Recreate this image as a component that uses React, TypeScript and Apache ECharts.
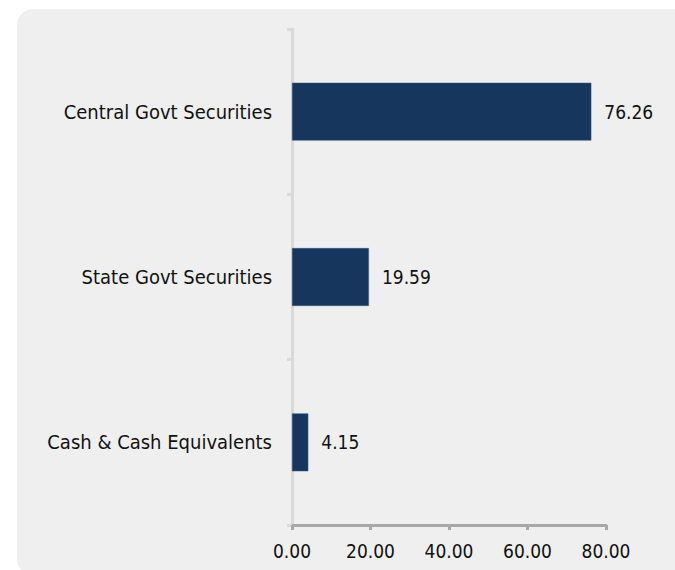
import React, { useEffect, useRef } from "react";
import * as echarts from "echarts";

const categories = ["Cash & Cash Equivalents", "State Govt Securities", "Central Govt Securities"];
const values = [4.15, 19.59, 76.26];
const xTicks = [0, 20, 40, 60, 80];

export default function App() {
  const ref = useRef<HTMLDivElement>(null);
  useEffect(() => {
    document.body.style.margin = "0";
    const chart = echarts.init(ref.current!, null, { renderer: "svg" });
    const font = "'DejaVu Sans Condensed', 'DejaVu Sans', sans-serif";
    chart.setOption({
      animation: false,
      backgroundColor: "#ffffff",
      graphic: [
        {
          type: "rect",
          z: -10,
          silent: true,
          shape: { x: 17, y: 9, width: 680, height: 566, r: [16, 0, 0, 16] },
          style: { fill: "#efefef" },
        },
      ],
      grid: { left: 292, right: 69, top: 29, bottom: 45, containLabel: false },
      xAxis: {
        type: "value",
        min: xTicks[0],
        max: xTicks[xTicks.length - 1],
        interval: 20,
        splitLine: { show: false },
        axisLine: { show: true, lineStyle: { color: "#a8a8a8", width: 3 } },
        axisTick: { show: true, length: 5, lineStyle: { color: "#a8a8a8", width: 3 } },
        axisLabel: {
          color: "#111111",
          fontFamily: font,
          fontSize: 19,
          margin: 16,
          formatter: (v: number) => v.toFixed(2),
        },
      },
      yAxis: {
        type: "category",
        data: categories,
        axisLine: { show: true, lineStyle: { color: "#d9d9d9", width: 3 } },
        axisTick: { show: true, length: 5, lineStyle: { color: "#d9d9d9", width: 3 } },
        axisLabel: { color: "#111111", fontFamily: font, fontSize: 20, margin: 20 },
      },
      series: [
        {
          type: "bar",
          data: values,
          barWidth: "35%",
          itemStyle: { color: "#17365d", borderColor: "#3a5a80", borderWidth: 0.5 },
          label: {
            show: true,
            position: "right",
            distance: 13,
            color: "#111111",
            fontFamily: font,
            fontSize: 19,
            formatter: (p: any) => p.value.toFixed(2),
          },
        },
      ],
    });
    return () => chart.dispose();
  }, []);
  return <div ref={ref} style={{ width: 675, height: 570 }} />;
}
